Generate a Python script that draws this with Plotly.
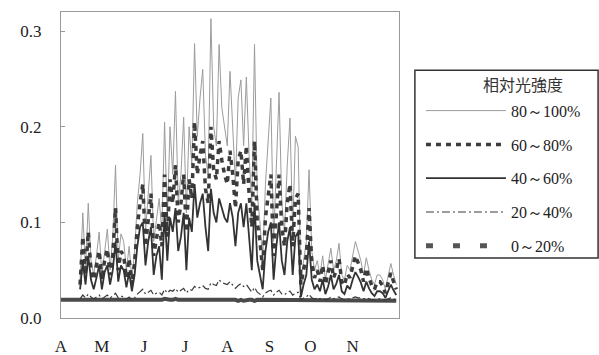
import plotly.graph_objects as go

# Day offsets from 1 April (every second day)
days = list(range(0, 247, 2))
month_days = [0, 30, 61, 91, 122, 153, 183, 214]
month_labels = ["A", "M", "J", "J", "A", "S", "O", "N"]
y_ticks = [0.0, 0.1, 0.2, 0.3]

pad = [None] * 7  # no readings before mid-April for the upper classes

s80_100 = pad + [
    0.040, 0.110, 0.050, 0.120, 0.060, 0.045, 0.065, 0.090, 0.045, 0.070,
    0.093, 0.050, 0.085, 0.160, 0.060, 0.088, 0.080, 0.050, 0.075, 0.040,
    0.070, 0.120, 0.150, 0.193, 0.090, 0.130, 0.170, 0.080, 0.100, 0.125,
    0.090, 0.205, 0.100, 0.200, 0.150, 0.237, 0.120, 0.150, 0.210, 0.110,
    0.200, 0.160, 0.287, 0.190, 0.230, 0.260, 0.170, 0.150, 0.313, 0.200,
    0.180, 0.286, 0.220, 0.200, 0.180, 0.258, 0.190, 0.140, 0.230, 0.249,
    0.180, 0.252, 0.170, 0.120, 0.286, 0.130, 0.100, 0.060, 0.140, 0.180,
    0.230, 0.080, 0.150, 0.236, 0.120, 0.090, 0.160, 0.209, 0.090, 0.190,
    0.179, 0.040, 0.060, 0.080, 0.155, 0.070, 0.050, 0.060, 0.045, 0.065,
    0.040, 0.055, 0.073, 0.050, 0.060, 0.078, 0.045, 0.040, 0.055, 0.050,
    0.065, 0.080, 0.070, 0.060, 0.045, 0.063, 0.050, 0.040, 0.035, 0.045,
    0.045, 0.040, 0.030, 0.045, 0.057, 0.045, 0.035]

s60_80 = pad + [
    0.035, 0.085, 0.045, 0.090, 0.050, 0.040, 0.055, 0.070, 0.040, 0.060,
    0.072, 0.045, 0.065, 0.115, 0.050, 0.070, 0.065, 0.042, 0.062, 0.035,
    0.058, 0.095, 0.120, 0.140, 0.075, 0.100, 0.130, 0.065, 0.085, 0.100,
    0.075, 0.150, 0.085, 0.145, 0.120, 0.160, 0.100, 0.120, 0.150, 0.090,
    0.145, 0.125, 0.205, 0.150, 0.170, 0.185, 0.135, 0.120, 0.200, 0.155,
    0.145, 0.185, 0.165, 0.150, 0.140, 0.175, 0.150, 0.115, 0.165, 0.175,
    0.140, 0.180, 0.130, 0.095, 0.185, 0.100, 0.080, 0.050, 0.105, 0.130,
    0.150, 0.065, 0.115, 0.150, 0.095, 0.075, 0.120, 0.140, 0.075, 0.125,
    0.130, 0.035, 0.050, 0.065, 0.115, 0.058, 0.042, 0.050, 0.038, 0.055,
    0.035, 0.046, 0.060, 0.042, 0.050, 0.062, 0.038, 0.034, 0.046, 0.042,
    0.054, 0.065, 0.058, 0.050, 0.038, 0.052, 0.042, 0.034, 0.030, 0.038,
    0.038, 0.034, 0.026, 0.038, 0.047, 0.038, 0.030]

s40_60 = pad + [
    0.030, 0.060, 0.035, 0.065, 0.040, 0.030, 0.042, 0.055, 0.030, 0.048,
    0.055, 0.035, 0.050, 0.080, 0.038, 0.055, 0.050, 0.032, 0.048, 0.028,
    0.045, 0.075, 0.095, 0.100, 0.055, 0.080, 0.095, 0.045, 0.065, 0.075,
    0.040, 0.110, 0.060, 0.105, 0.090, 0.115, 0.070, 0.085, 0.110, 0.050,
    0.105, 0.090, 0.140, 0.105, 0.120, 0.130, 0.095, 0.070, 0.135, 0.110,
    0.100, 0.125, 0.115, 0.105, 0.100, 0.120, 0.105, 0.075, 0.110, 0.120,
    0.095, 0.120, 0.085, 0.050, 0.120, 0.060, 0.045, 0.030, 0.070, 0.090,
    0.100, 0.040, 0.075, 0.100, 0.060, 0.045, 0.080, 0.095, 0.045, 0.085,
    0.090, 0.022, 0.035, 0.045, 0.080, 0.040, 0.030, 0.035, 0.028, 0.040,
    0.025, 0.033, 0.045, 0.030, 0.036, 0.045, 0.028, 0.025, 0.034, 0.030,
    0.040, 0.048, 0.043, 0.037, 0.028, 0.038, 0.031, 0.026, 0.023, 0.028,
    0.028, 0.026, 0.021, 0.028, 0.035, 0.029, 0.024]

s20_40 = pad + [
    0.020, 0.024, 0.021, 0.025, 0.022, 0.020, 0.022, 0.024, 0.020, 0.022,
    0.024, 0.021, 0.023, 0.026, 0.021, 0.023, 0.022, 0.020, 0.022, 0.019,
    0.021, 0.025, 0.028, 0.030, 0.025, 0.027, 0.029, 0.024, 0.026, 0.027,
    0.024, 0.030, 0.026, 0.029, 0.028, 0.031, 0.027, 0.029, 0.031, 0.026,
    0.030, 0.029, 0.033, 0.031, 0.032, 0.034, 0.031, 0.030, 0.037, 0.035,
    0.034, 0.040, 0.037, 0.036, 0.035, 0.038, 0.034, 0.031, 0.034, 0.036,
    0.033, 0.035, 0.031, 0.027, 0.032, 0.027, 0.025, 0.022, 0.026, 0.028,
    0.029, 0.024, 0.027, 0.029, 0.025, 0.024, 0.027, 0.028, 0.024, 0.026,
    0.027, 0.019, 0.021, 0.022, 0.025, 0.021, 0.020, 0.021, 0.020, 0.021,
    0.019, 0.020, 0.022, 0.020, 0.021, 0.022, 0.020, 0.019, 0.020, 0.020,
    0.021, 0.022, 0.021, 0.021, 0.020, 0.021, 0.020, 0.019, 0.019, 0.020,
    0.020, 0.019, 0.019, 0.020, 0.021, 0.020, 0.019]

s0_20 = [
    0.019, 0.019, 0.019, 0.019, 0.019, 0.019, 0.019, 0.019, 0.018, 0.019,
    0.019, 0.018, 0.019, 0.019, 0.019, 0.018, 0.019, 0.019, 0.019, 0.018,
    0.019, 0.019, 0.018, 0.019, 0.019, 0.019, 0.019, 0.018, 0.019, 0.019,
    0.019, 0.019, 0.018, 0.019, 0.019, 0.019, 0.019, 0.019, 0.020, 0.019,
    0.019, 0.019, 0.020, 0.019, 0.019, 0.020, 0.019, 0.019, 0.020, 0.019,
    0.019, 0.020, 0.019, 0.019, 0.019, 0.020, 0.019, 0.019, 0.019, 0.019,
    0.019, 0.019, 0.019, 0.019, 0.019, 0.018, 0.019, 0.018, 0.019, 0.019,
    0.019, 0.018, 0.019, 0.019, 0.019, 0.018, 0.019, 0.019, 0.018, 0.019,
    0.019, 0.018, 0.018, 0.019, 0.019, 0.018, 0.018, 0.019, 0.018, 0.018,
    0.018, 0.018, 0.019, 0.018, 0.018, 0.019, 0.018, 0.018, 0.018, 0.018,
    0.018, 0.019, 0.018, 0.018, 0.018, 0.018, 0.018, 0.018, 0.018, 0.018,
    0.018, 0.018, 0.018, 0.018, 0.018, 0.018, 0.018, 0.018, 0.018, 0.018,
    0.018, 0.018, 0.018, 0.018]

names = ["80～100%", "60～80%", "40～60%", "20～40%", "0～20%"]
legend_title = "相対光強度"

serif = "'Liberation Serif', 'Times New Roman', serif"
cjk = "'Noto Sans CJK JP', 'Noto Sans CJK SC', sans-serif"

fig = go.Figure()

# lowest class drawn as a heavy line (its legend sample is dashed below)
fig.add_trace(go.Scatter(x=days, y=s0_20, mode="lines", showlegend=False,
                         line=dict(color="#4a4a4a", width=4)))
fig.add_trace(go.Scatter(x=days, y=s80_100, mode="lines", name=names[0],
                         legendgroup="a",
                         line=dict(color="#9c9c9c", width=1)))
fig.add_trace(go.Scatter(x=days, y=s60_80, mode="lines", name=names[1],
                         legendgroup="b",
                         line=dict(color="#3c3c3c", width=3.5, dash="5px,5px")))
fig.add_trace(go.Scatter(x=days, y=s40_60, mode="lines", name=names[2],
                         legendgroup="c",
                         line=dict(color="#333333", width=1.8)))
fig.add_trace(go.Scatter(x=days, y=s20_40, mode="lines", name=names[3],
                         legendgroup="d",
                         line=dict(color="#3a3a3a", width=1.2,
                                   dash="8px,3px,2px,3px")))
fig.add_trace(go.Scatter(x=[None], y=[None], mode="lines", name=names[4],
                         legendgroup="e",
                         line=dict(color="#555555", width=5, dash="7px,20px")))

fig.update_layout(
    width=599, height=355,
    margin=dict(l=61, r=200, t=12, b=37),
    paper_bgcolor="white", plot_bgcolor="white",
    font=dict(family=serif, size=17, color="#222222"),
    xaxis=dict(range=[0, 248], tickvals=month_days, ticktext=month_labels,
               showline=True, mirror=True, linecolor="#999999", linewidth=1,
               showgrid=False, zeroline=False, ticks="", automargin=False,
               ticklabelstandoff=13, tickfont=dict(family=serif, size=17)),
    yaxis=dict(range=[0, 0.32], tickvals=y_ticks, tickformat=".1f",
               showline=True, mirror=True, linecolor="#999999", linewidth=1,
               showgrid=False, zeroline=False, ticks="inside", ticklen=4,
               tickcolor="#999999", ticklabelstandoff=15, automargin=False,
               tickfont=dict(family=serif, size=17)),
    legend=dict(x=1.065, y=0.733, xanchor="left", yanchor="top",
                itemwidth=80, tracegroupgap=10,
                font=dict(family=serif, size=16, color="#222222"),
                bgcolor="rgba(0,0,0,0)", borderwidth=0),
    shapes=[dict(type="rect", xref="paper", yref="paper",
                 x0=1.047, x1=1.589, y0=0.196, y1=0.810,
                 line=dict(color="#333333", width=1.5))],
    annotations=[dict(text=legend_title, xref="paper", yref="paper",
                      x=1.367, y=(318 - 84) / 306, xanchor="center",
                      yanchor="middle", showarrow=False,
                      font=dict(family=cjk, size=16, color="#333333"))],
)

fig.write_html("out.html", config={"displayModeBar": False},
               post_script="document.body.style.margin='0px';")
